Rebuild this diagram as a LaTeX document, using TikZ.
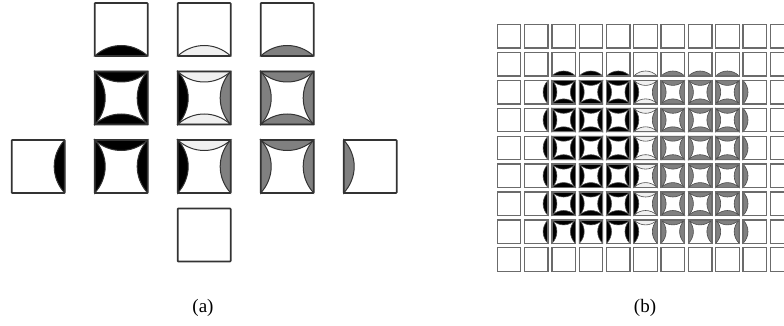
\documentclass[tikz,border=0pt]{standalone}
\usepackage{fontspec}
\setmainfont{Liberation Serif}
\colorlet{K}{black}
\colorlet{L}{black!6}
\colorlet{G}{black!50}
\def\nonecol{n}
\def\kf{0.29}
\newcommand\sgT[1]{\def\tmp{#1}\ifx\tmp\nonecol\else\filldraw[seg,fill=#1] (\cx,\cy) .. controls ({\cx+\kf*\cS},{\cy+4*\cs/3}) and ({\cx+(1-\kf)*\cS},{\cy+4*\cs/3}) .. ({\cx+\cS},\cy) -- cycle;\fi}
\newcommand\sgB[1]{\def\tmp{#1}\ifx\tmp\nonecol\else\filldraw[seg,fill=#1] (\cx,{\cy+\cS}) .. controls ({\cx+\kf*\cS},{\cy+\cS-4*\cs/3}) and ({\cx+(1-\kf)*\cS},{\cy+\cS-4*\cs/3}) .. ({\cx+\cS},{\cy+\cS}) -- cycle;\fi}
\newcommand\sgL[1]{\def\tmp{#1}\ifx\tmp\nonecol\else\filldraw[seg,fill=#1] (\cx,\cy) .. controls ({\cx+4*\cs/3},{\cy+\kf*\cS}) and ({\cx+4*\cs/3},{\cy+(1-\kf)*\cS}) .. (\cx,{\cy+\cS}) -- cycle;\fi}
\newcommand\sgR[1]{\def\tmp{#1}\ifx\tmp\nonecol\else\filldraw[seg,fill=#1] ({\cx+\cS},\cy) .. controls ({\cx+\cS-4*\cs/3},{\cy+\kf*\cS}) and ({\cx+\cS-4*\cs/3},{\cy+(1-\kf)*\cS}) .. ({\cx+\cS},{\cy+\cS}) -- cycle;\fi}
\newcommand\tl[8]{\pgfmathsetmacro\cx{#1}\pgfmathsetmacro\cy{#2}\def\cS{#3}\def\cs{#4}%
  \sgT{#5}\sgR{#6}\sgB{#7}\sgL{#8}%
  \draw[box] (\cx,\cy) rectangle ++(\cS,\cS);}
\begin{document}
\begin{tikzpicture}[x=1pt,y=-1pt,
  box/.style={draw=black!80,line width=1.6pt,rounded corners=0.6pt},
  seg/.style={draw=black!80,line width=1pt},
  captxt/.style={font=\fontsize{19}{22}\selectfont}]
\useasboundingbox (0,0) rectangle (784,326);
\clip (0,0) rectangle (784,326);
% ---------- (a)
\def\S{53}\def\s{10.5}
\tl{94.7}{3}{\S}{\s}{n}{n}{K}{n}
\tl{177.7}{3}{\S}{\s}{n}{n}{L}{n}
\tl{260.7}{3}{\S}{\s}{n}{n}{G}{n}
\tl{94.7}{71.5}{\S}{\s}{K}{K}{K}{K}
\tl{177.7}{71.5}{\S}{\s}{L}{G}{L}{K}
\tl{260.7}{71.5}{\S}{\s}{G}{G}{G}{G}
\tl{11.7}{140}{\S}{\s}{n}{K}{n}{n}
\tl{94.7}{140}{\S}{\s}{K}{K}{n}{K}
\tl{177.7}{140}{\S}{\s}{L}{G}{n}{K}
\tl{260.7}{140}{\S}{\s}{G}{G}{n}{G}
\tl{343.7}{140}{\S}{\s}{n}{n}{n}{G}
\tl{177.7}{208.5}{\S}{\s}{n}{n}{n}{n}
\node[captxt] (capa) at (203,308) {(a)};
% ---------- (b)
\begin{scope}[box/.style={draw=black!58,line width=1.3pt},
              seg/.style={draw=black!70,line width=0.6pt}]
\def\S{23.5}\def\s{5}
\foreach \i in {0,...,10}{\foreach \j in {0,...,8}{%
  \tl{497.3+27.3*\i}{24.6+27.9*\j}{\S}{\s}{n}{n}{n}{n}}}
% row 1 (tops)
\foreach \i in {2,3,4}{\tl{497.3+27.3*\i}{24.6+27.9}{\S}{\s}{n}{n}{K}{n}}
\tl{497.3+27.3*5}{24.6+27.9}{\S}{\s}{n}{n}{L}{n}
\foreach \i in {6,7,8}{\tl{497.3+27.3*\i}{24.6+27.9}{\S}{\s}{n}{n}{G}{n}}
% rows 2-6 (interior)
\foreach \j in {2,...,6}{%
  \tl{497.3+27.3}{24.6+27.9*\j}{\S}{\s}{n}{K}{n}{n}
  \foreach \i in {2,3,4}{\tl{497.3+27.3*\i}{24.6+27.9*\j}{\S}{\s}{K}{K}{K}{K}}
  \tl{497.3+27.3*5}{24.6+27.9*\j}{\S}{\s}{L}{G}{L}{K}
  \foreach \i in {6,7,8}{\tl{497.3+27.3*\i}{24.6+27.9*\j}{\S}{\s}{G}{G}{G}{G}}
  \tl{497.3+27.3*9}{24.6+27.9*\j}{\S}{\s}{n}{n}{n}{G}
}
% row 7 (bottoms)
\tl{497.3+27.3}{24.6+27.9*7}{\S}{\s}{n}{K}{n}{n}
\foreach \i in {2,3,4}{\tl{497.3+27.3*\i}{24.6+27.9*7}{\S}{\s}{K}{K}{n}{K}}
\tl{497.3+27.3*5}{24.6+27.9*7}{\S}{\s}{L}{G}{n}{K}
\foreach \i in {6,7,8}{\tl{497.3+27.3*\i}{24.6+27.9*7}{\S}{\s}{G}{G}{n}{G}}
\tl{497.3+27.3*9}{24.6+27.9*7}{\S}{\s}{n}{n}{n}{G}
\end{scope}
\node[captxt] (capb) at (645,308) {(b)};
\end{tikzpicture}
\end{document}
